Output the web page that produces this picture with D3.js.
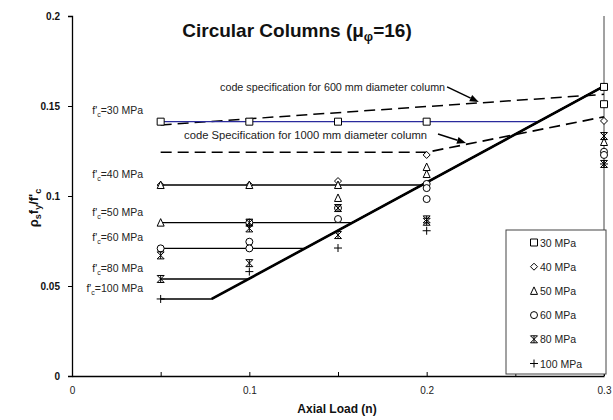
<!DOCTYPE html>
<html><head><meta charset="utf-8">
<script src="https://cdn.jsdelivr.net/npm/d3@7"></script>
<style>
body{margin:0;background:#fff;}
svg{display:block;font-family:Arial,"Liberation Sans",sans-serif;}
</style></head>
<body><svg id="c" width="613" height="420"></svg>
<script>
// ---- data ----
const loads = [0.05, 0.1, 0.15, 0.2, 0.3];
const seriesNames = ["30 MPa","40 MPa","50 MPa","60 MPa","80 MPa","100 MPa"];
const seriesShapes = ["square","diamond","triangle","circle","star","plus"];
const levels = [0.1413, 0.1061, 0.0852, 0.0709, 0.0539, 0.0428]; // horizontal design lines
const diagStart = [0.0788, 0.0428];
const diagEnd = [0.3, 0.161];
const pts30 = [[0.05,0.1413],[0.1,0.1413],[0.15,0.1413],[0.2,0.1413],[0.3,0.1606],[0.3,0.151]];
const pts40 = [[0.05,0.1061],[0.1,0.1061],[0.15,0.1083],[0.2,0.1228],[0.3,0.1417]];
const pts50 = [[0.05,0.1061],[0.05,0.0852],[0.1,0.1061],[0.15,0.1061],[0.15,0.0989],[0.2,0.1161],[0.2,0.1122],[0.3,0.130]];
const pts60 = [[0.05,0.0709],[0.1,0.0852],[0.1,0.0746],[0.1,0.0709],[0.15,0.0933],[0.15,0.0872],[0.2,0.1067],[0.2,0.1044],[0.2,0.0983],[0.3,0.1246],[0.3,0.1228]];
const pts80 = [[0.05,0.067],[0.05,0.0539],[0.1,0.0852],[0.1,0.082],[0.1,0.0627],[0.15,0.0933],[0.15,0.0783],[0.2,0.087],[0.2,0.0857],[0.3,0.1333],[0.3,0.1178]];
const pts100 = [[0.05,0.0428],[0.1,0.058],[0.15,0.0711],[0.2,0.0807],[0.3,0.1178]];
const code600 = [[0.05,0.1395],[0.3,0.1565]];
const code1000 = [[0.05,0.1243],[0.2,0.1243],[0.3,0.144]];
const xTicks = [0,0.05,0.1,0.15,0.2,0.25,0.3];
const xTickLabels = ["0","","0.1","","0.2","","0.3"];
const yTicks = [0,0.05,0.1,0.15,0.2];
const yTickLabels = ["0","0.05","0.1","0.15","0.2"];
const fcLabels = ["30","40","50","60","80","100"];

// ---- layout ----
const svg = d3.select("#c");
const x = d3.scaleLinear().domain([0,0.3]).range([72,604]);
const y = d3.scaleLinear().domain([0,0.2]).range([376,16]);
const line = d3.line().x(d=>x(d[0])).y(d=>y(d[1]));
const slope = (diagEnd[1]-diagStart[1])/(diagEnd[0]-diagStart[0]);

// right border
svg.append("line").attr("x1",x(0.3)).attr("x2",x(0.3)).attr("y1",y(0.2)).attr("y2",y(0))
  .attr("stroke","#444").attr("stroke-width",1);

// axes
const ya = svg.append("g").attr("transform",`translate(${x(0)},0)`)
  .call(d3.axisLeft(y).tickValues(yTicks).tickSize(4).tickPadding(8)
    .tickFormat((d,i)=>yTickLabels[i]));
ya.selectAll("text").attr("font-size",10).attr("font-weight","bold").attr("fill","#111")
  .attr("font-family","Arial,'Liberation Sans',sans-serif");
const xa = svg.append("g").attr("transform",`translate(0,${y(0)})`)
  .call(d3.axisBottom(x).tickValues(xTicks).tickSizeInner(-4).tickSizeOuter(0).tickPadding(11)
    .tickFormat((d,i)=>xTickLabels[i]));
xa.selectAll("text").attr("font-size",10).attr("fill","#222")
  .attr("font-family","Arial,'Liberation Sans',sans-serif");
[ya,xa].forEach(g=>{g.select(".domain").attr("stroke","#000").attr("stroke-width",1.3);
  g.selectAll(".tick line").attr("stroke","#000");});

// dashed code lines
svg.append("path").datum(code600).attr("d",line).attr("fill","none")
  .attr("stroke","#000").attr("stroke-width",1.5).attr("stroke-dasharray","11,6");
svg.append("path").datum(code1000).attr("d",line).attr("fill","none")
  .attr("stroke","#000").attr("stroke-width",1.7).attr("stroke-dasharray","11,6");

// design lines per series (horizontal then along diagonal)
levels.forEach((L,i)=>{
  const xi = diagStart[0] + (L-diagStart[1])/slope;
  const pts = [[0.05,L],[xi,L],diagEnd];
  svg.append("path").datum(pts).attr("d",line).attr("fill","none")
    .attr("stroke", i===0 ? "#2a2a9c" : "#000").attr("stroke-width",1.4);
});
// main diagonal
svg.append("path").datum([diagStart,diagEnd]).attr("d",line).attr("fill","none")
  .attr("stroke","#000").attr("stroke-width",2.6);

// markers
function shapePath(type, cx, cy, s){
  const h=s/2;
  switch(type){
    case "square": return `M${cx-h},${cy-h}h${s}v${s}h${-s}Z`;
    case "diamond": return `M${cx},${cy-h}L${cx+h},${cy}L${cx},${cy+h}L${cx-h},${cy}Z`;
    case "triangle": return `M${cx},${cy-h-0.5}L${cx+h},${cy+h}L${cx-h},${cy+h}Z`;
    case "circle": return `M${cx+h},${cy}A${h},${h} 0 1,1 ${cx-h},${cy}A${h},${h} 0 1,1 ${cx+h},${cy}Z`;
    case "star": return `M${cx-h},${cy-h}L${cx+h},${cy+h}M${cx+h},${cy-h}L${cx-h},${cy+h}M${cx},${cy-h}L${cx},${cy+h}M${cx-h},${cy-h}h${s}M${cx-h},${cy+h}h${s}`;
    case "plus": return `M${cx-h},${cy}h${s}M${cx},${cy-h}v${s}`;
  }
}
const allPts = [pts30,pts40,pts50,pts60,pts80,pts100];
allPts.forEach((pts,i)=>{
  svg.append("g").selectAll("path").data(pts).join("path")
    .attr("d",d=>shapePath(seriesShapes[i], x(d[0]), y(d[1]), i===5?8:7))
    .attr("fill", (i>=4)?"none":"#fff").attr("stroke","#000").attr("stroke-width",1);
});

// f'c labels
fcLabels.forEach((v,i)=>{
  const t = svg.append("text").attr("x",143).attr("y",y(levels[i])-(i===0?8:7))
    .attr("text-anchor","end").attr("font-size",10.5).attr("fill","#222");
  t.append("tspan").text("f'");
  t.append("tspan").attr("font-size",7).attr("dy",3).text("c");
  t.append("tspan").attr("dy",-3).text("="+v+" MPa");
});

// annotations
function arrow(p0,p1){
  const x0=x(p0[0]),y0=y(p0[1]),x1=x(p1[0]),y1=y(p1[1]);
  const a=Math.atan2(y1-y0,x1-x0), L=9, W=3.5;
  const bx=x1-L*Math.cos(a), by=y1-L*Math.sin(a);
  svg.append("line").attr("x1",x0).attr("y1",y0).attr("x2",bx).attr("y2",by)
    .attr("stroke","#000").attr("stroke-width",1.5);
  svg.append("path").attr("d",`M${x1},${y1}L${bx-W*Math.sin(a)},${by+W*Math.cos(a)}L${bx+W*Math.sin(a)},${by-W*Math.cos(a)}Z`)
    .attr("fill","#000");
}
svg.append("text").attr("x",x(0.0835)).attr("y",y(0.1584)).attr("font-size",10).attr("fill","#222")
  .attr("textLength",225).attr("lengthAdjust","spacingAndGlyphs")
  .text("code specification for 600 mm diameter column");
arrow([0.2115,0.1606],[0.2294,0.1522]);
svg.append("text").attr("x",x(0.0632)).attr("y",y(0.1317)).attr("font-size",10).attr("fill","#222")
  .attr("textLength",243).attr("lengthAdjust","spacingAndGlyphs")
  .text("code Specification for 1000 mm diameter column");
arrow([0.2064,0.1344],[0.2222,0.1294]);

// title
const tt = svg.append("text").attr("x",297).attr("y",37).attr("text-anchor","middle")
  .attr("font-size",19).attr("font-weight","bold").attr("fill","#111");
tt.append("tspan").text("Circular Columns (μ");
tt.append("tspan").attr("font-size",13).attr("dy",4).text("φ");
tt.append("tspan").attr("dy",-4).text("=16)");

// axis titles
svg.append("text").attr("x",337).attr("y",413).attr("text-anchor","middle")
  .attr("font-size",12).attr("font-weight","bold").attr("fill","#111").text("Axial Load (n)");
const yt = svg.append("text").attr("transform","translate(38,208) rotate(-90)").attr("text-anchor","middle")
  .attr("font-size",13).attr("font-weight","bold").attr("fill","#111");
yt.append("tspan").text("ρ");
yt.append("tspan").attr("font-size",9).attr("dy",3).text("s");
yt.append("tspan").attr("dy",-3).text("f");
yt.append("tspan").attr("font-size",9).attr("dy",3).text("y");
yt.append("tspan").attr("dy",-3).text("/f'");
yt.append("tspan").attr("font-size",9).attr("dy",3).text("c");

// legend
const lg = svg.append("g");
lg.append("rect").attr("x",506).attr("y",230).attr("width",100).attr("height",144)
  .attr("fill","#fff").attr("stroke","#444").attr("stroke-width",1);
seriesNames.forEach((n,i)=>{
  const cy = 242.5 + i*24.2;
  lg.append("path").attr("d",shapePath(seriesShapes[i],534,cy,i===5?8:7))
    .attr("fill",(i>=4)?"none":"#fff").attr("stroke","#000").attr("stroke-width",1);
  lg.append("text").attr("x",540).attr("y",cy+4).attr("font-size",10.5).attr("fill","#222").text(n);
});
</script></body></html>
